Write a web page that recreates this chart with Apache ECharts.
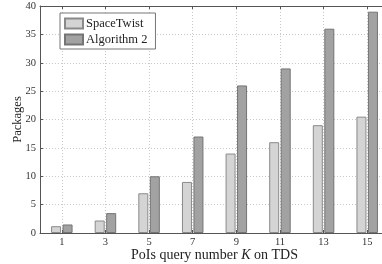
<!DOCTYPE html>
<html>
<head>
<meta charset="utf-8">
<script src="https://cdn.jsdelivr.net/npm/echarts@6/dist/echarts.min.js"></script>
<style>
	html, body { margin: 0; padding: 0; background: #fff; }
	#chart { width: 382px; height: 264px; }
</style>
</head>
<body>
<div id="chart"></div>
<script>
	// K values on the x axis and packages per method
	const kValues = [1, 3, 5, 7, 9, 11, 13, 15]
	const spaceTwist = [1.2, 2.2, 7, 9, 14, 16, 19, 20.5]
	const algorithm2 = [1.5, 3.5, 10, 17, 26, 29, 36, 39]
	const yTicks = [0, 5, 10, 15, 20, 25, 30, 35, 40]

	// axis runs 0..16 so the odd K sit on grid lines
	const axisCats = []
	for (let i = 0; i <= 16; i++) axisCats.push(String(i))
	const toAxis = (vals) => axisCats.map((c) => {
		const idx = kValues.indexOf(Number(c))
		return idx >= 0 ? vals[idx] : null
	})
	const isK = (i) => kValues.indexOf(i) >= 0

	const font = 'Liberation Serif'
	const chart = echarts.init(document.getElementById('chart'))
	const option = {
		animation: false,
		textStyle: { fontFamily: font },
		// plot runs past the right edge of the picture, as in the original
		grid: { left: 40, top: 6, width: 349, bottom: 31, outerBoundsMode: 'none' },
		legend: {
			orient: 'vertical',
			left: 60,
			top: 13,
			padding: [4, 8, 3, 4],
			itemGap: 3,
			itemWidth: 18,
			itemHeight: 10,
			icon: 'rect',
			backgroundColor: '#fff',
			borderColor: '#777',
			borderWidth: 1,
			borderRadius: 0,
			textStyle: { fontFamily: font, fontSize: 12.5, color: '#222', padding: [0, 0, 0, -2] },
			data: ['SpaceTwist', 'Algorithm 2']
		},
		xAxis: [
			{
				type: 'category',
				data: axisCats,
				boundaryGap: false,
				name: '{n|PoIs query number }{k|K}{n| on TDS}',
				nameLocation: 'middle',
				nameGap: 15,
				nameMoveOverlap: false,
				nameTextStyle: {
					rich: {
						n: { fontFamily: font, fontSize: 14, color: '#222' },
						k: { fontFamily: font, fontSize: 14, color: '#222', fontStyle: 'italic' }
					}
				},
				axisLine: { lineStyle: { color: '#555' } },
				axisTick: { inside: true, length: 3, interval: (i) => isK(i), lineStyle: { color: '#555' } },
				axisLabel: { interval: (i) => isK(i), fontFamily: font, fontSize: 10.5, color: '#333', margin: 4 },
				splitLine: { show: true, interval: (i) => isK(i), lineStyle: { color: '#c8c8c8', type: [1, 2] } }
			},
			{
				type: 'category',
				data: axisCats,
				boundaryGap: false,
				position: 'top',
				axisLine: { lineStyle: { color: '#555' } },
				axisTick: { inside: true, length: 3, interval: (i) => isK(i), lineStyle: { color: '#555' } },
				axisLabel: { show: false },
				splitLine: { show: false }
			}
		],
		yAxis: {
			type: 'value',
			min: yTicks[0],
			max: yTicks[yTicks.length - 1],
			interval: 5,
			name: 'Packages',
			nameLocation: 'middle',
			nameGap: 16,
			nameMoveOverlap: false,
			nameTextStyle: { fontFamily: font, fontSize: 12.5, color: '#222' },
			axisLine: { show: true, lineStyle: { color: '#555' } },
			axisTick: { show: true, inside: true, length: 3, lineStyle: { color: '#555' } },
			axisLabel: { fontFamily: font, fontSize: 10.5, color: '#333', margin: 4 },
			splitLine: { show: true, lineStyle: { color: '#c8c8c8', type: [1, 2] } }
		},
		series: [
			{
				name: 'SpaceTwist',
				type: 'bar',
				barWidth: 10,
				barGap: '15%',
				data: toAxis(spaceTwist),
				itemStyle: { color: '#d4d4d4', borderColor: '#8a8a8a', borderWidth: 1 }
			},
			{
				name: 'Algorithm 2',
				type: 'bar',
				barWidth: 10,
				data: toAxis(algorithm2),
				itemStyle: { color: '#a2a2a2', borderColor: '#747474', borderWidth: 1 }
			}
		]
	}
	chart.setOption(option)
	window.onresize = () => {
		chart.resize()
	}
</script>
</body>
</html>
